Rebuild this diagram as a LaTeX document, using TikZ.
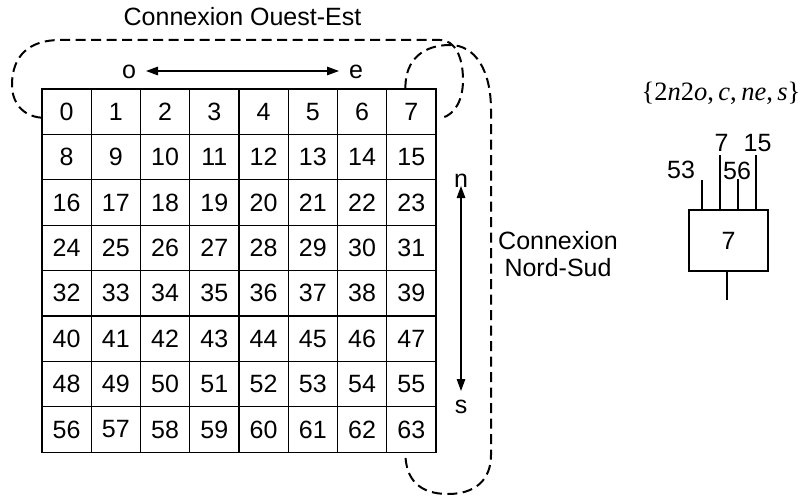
\documentclass[tikz,border=0pt]{standalone}
\usepackage{fontspec}
\setmainfont{Liberation Sans}
\newfontfamily\serifmath{Liberation Serif}
\usetikzlibrary{arrows.meta}
\begin{document}
\begin{tikzpicture}[x=1pt,y=-1pt,
  txt/.style={font=\fontsize{25}{28}\selectfont, inner sep=0pt},
  cell/.style={draw, line width=1.3pt, minimum width=49.25pt, minimum height=45.4pt, inner sep=0pt, font=\fontsize{25}{28}\selectfont},
  conn/.style={line width=2pt, dash pattern=on 10pt off 5.5pt},
  dir/.style={line width=1.3pt, {Triangle[length=12pt,width=8.5pt]}-{Triangle[length=12pt,width=8.5pt]}},
  wire/.style={line width=1.3pt},
  pebox/.style={draw, line width=1.3pt, minimum width=79pt, minimum height=61pt, inner sep=0pt, font=\fontsize{25}{28}\selectfont}]
\useasboundingbox (0,0) rectangle (802,497);
% grid
\foreach \r in {0,...,7}{
  \foreach \c in {0,...,7}{
    \pgfmathtruncatemacro{\n}{8*\r+\c}
    \node[cell] (c\n) at ({42+(\c+0.5)*49.25},{89+(\r+0.5)*45.4}) {\n};
  }
}
% titles and direction arrows
\node[txt] (tWE) at (242.5,17) {Connexion Ouest-Est};
\node[txt] (lo) at (129,72) {o};
\node[txt] (le) at (356,72) {e};
\coordinate (ao) at (146,71);
\coordinate (ae) at (339,71);
\draw[dir] (ao) -- (ae);
\node[txt] (ln) at (461,181) {n};
\node[txt] (ls) at (461,407) {s};
\coordinate (an) at (461,186);
\coordinate (as) at (461,391);
\draw[dir] (an) -- (as);
\node[txt, align=center] (tNS) at (558,254) {Connexion\\[-1pt]Nord-Sud};
% west-east loop
\coordinate (we0) at ([yshift=-6pt]c0.west);
\coordinate (we7) at ([xshift=6pt,yshift=-6pt]c7.east);
\draw[conn] (we0) .. controls (22,116) and (12,102) .. (12,85)
  .. controls (12,55) and (30,40) .. (60,40) -- (440,40)
  .. controls (455,40) and (463,57) .. (463,80)
  .. controls (463,100) and (455,114) .. (we7);
% north-south loop
\coordinate (ns7) at ([xshift=-6pt]c7.north);
\coordinate (ns63) at ([xshift=-6pt]c63.south);
\draw[conn] (ns7) .. controls (405,58) and (425,45) .. (450,45)
  .. controls (475,45) and (491,70) .. (491,110) -- (491,455)
  .. controls (491,480) and (475,494) .. (448,494)
  .. controls (420,494) and (ns63 |- 0,480) .. (ns63);
% processing element
\node[font=\serifmath\fontsize{26.5}{30}\selectfont, inner sep=0pt] (set) at (721,93) {\{2\textit{n}2\textit{o},\,\textit{c},\,\textit{ne},\,\textit{s}\}};
\node[pebox] (pe) at (728.5,240.5) {7};
\coordinate (i1) at (702,180);
\coordinate (i2) at (720,155);
\coordinate (i3) at (738,179);
\coordinate (i4) at (756,155);
\coordinate (o1) at (727,300);
\foreach \i in {i1,i2,i3,i4}{\draw[wire] (\i) -- (\i |- pe.north);}
\draw[wire] (o1 |- pe.south) -- (o1);
\node[txt] (l53) at (681,170) {53};
\node[txt] (l7) at (721.5,143) {7};
\node[txt] (l56) at (737,171) {56};
\node[txt] (l15) at (757.5,143) {15};
\end{tikzpicture}
\end{document}
